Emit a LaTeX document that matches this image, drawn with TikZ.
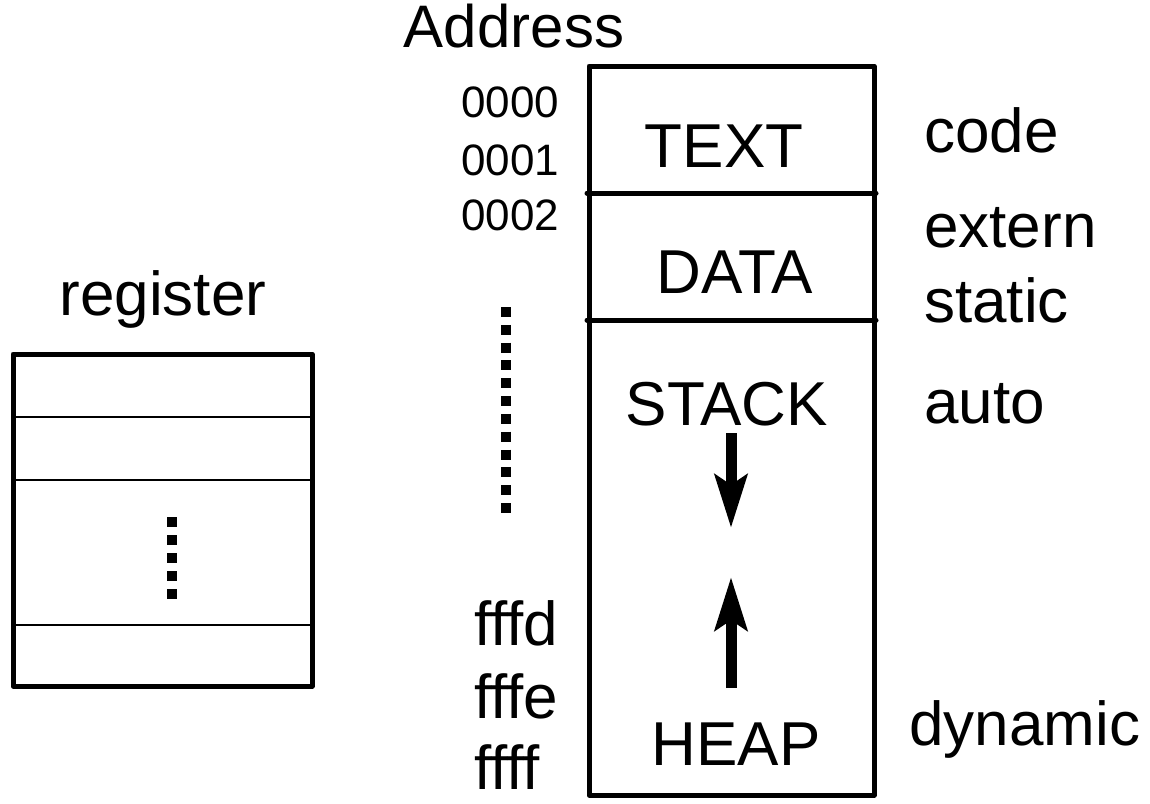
\documentclass[tikz,border=0pt]{standalone}
\usepackage{fontspec}
\setmainfont{Liberation Sans}
\usetikzlibrary{arrows.meta}
\begin{document}
\begin{tikzpicture}[x=1pt,y=-1pt,
  big/.style={font=\fontsize{62}{70}\selectfont, inner sep=0pt},
  small/.style={font=\fontsize{44}{50}\selectfont, inner sep=0pt},
  boxline/.style={line width=5pt, line join=round, line cap=round},
  rowline/.style={line width=2pt},
  dotrule/.style={line width=10pt, dash pattern=on 10pt off 7.82pt},
  growarrow/.style={line width=11pt, -{Stealth[length=53pt, width=32pt, inset=10pt]}}]
\useasboundingbox (0,0) rectangle (1150,803);

% memory layout column
\coordinate (mtl) at (589,66);
\coordinate (mbr) at (874,795);
\draw[boxline] (mtl) rectangle (mbr);
\coordinate (d1l) at (587,193); \coordinate (d1r) at (876,193);
\coordinate (d2l) at (587,320); \coordinate (d2r) at (876,320);
\draw[boxline] (d1l) -- (d1r);
\draw[boxline] (d2l) -- (d2r);

\node[big, anchor=base] (text)  at (724,167) {TEXT};
\node[big, anchor=base] (data)  at (735,293) {DATA};
\node[big, anchor=base] (stack) at (727,425) {STACK};
\node[big, anchor=base] (heap)  at (736,765) {HEAP};

% stack grows down, heap grows up
\coordinate (sdA) at (731,433); \coordinate (sdB) at (731,528);
\coordinate (huA) at (731,688); \coordinate (huB) at (731,577);
\draw[growarrow] (sdA) -- (sdB);
\draw[growarrow] (huA) -- (huB);

% address column
\node[big, font=\fontsize{60}{68}\selectfont, anchor=base] (addr) at (514,47) {Address};
\node[small, anchor=base west] (a0) at (461,117) {0000};
\node[small, anchor=base west] (a1) at (461,175) {0001};
\node[small, anchor=base west] (a2) at (461,230) {0002};
\coordinate (adA) at (506,307); \coordinate (adB) at (506,513);
\draw[dotrule] (adA) -- (adB);
\node[big, anchor=base west] (fd) at (474,645) {fffd};
\node[big, anchor=base west] (fe) at (474,718) {fffe};
\node[big, anchor=base west] (ff) at (474,789) {ffff};

% storage classes
\node[big, anchor=base west] (code)    at (924,152) {code};
\node[big, anchor=base west] (extern)  at (924,247) {extern};
\node[big, anchor=base west] (static)  at (924,322) {static};
\node[big, anchor=base west] (auto)    at (924,423) {auto};
\node[big, anchor=base west] (dynamic) at (909,745) {dynamic};

% register file
\node[big, anchor=base] (reg) at (163,315) {register};
\coordinate (rtl) at (13,354);
\coordinate (rbr) at (312,686);
\draw[boxline] (rtl) rectangle (rbr);
\foreach \y/\n in {417/r1, 480/r2, 625/r3} {
  \coordinate (\n l) at (13,\y); \coordinate (\n r) at (312,\y);
  \draw[rowline] (\n l) -- (\n r);
}
\coordinate (rdA) at (172,517); \coordinate (rdB) at (172,599);
\draw[dotrule, dash pattern=on 10pt off 8pt] (rdA) -- (rdB);
\end{tikzpicture}
\end{document}
